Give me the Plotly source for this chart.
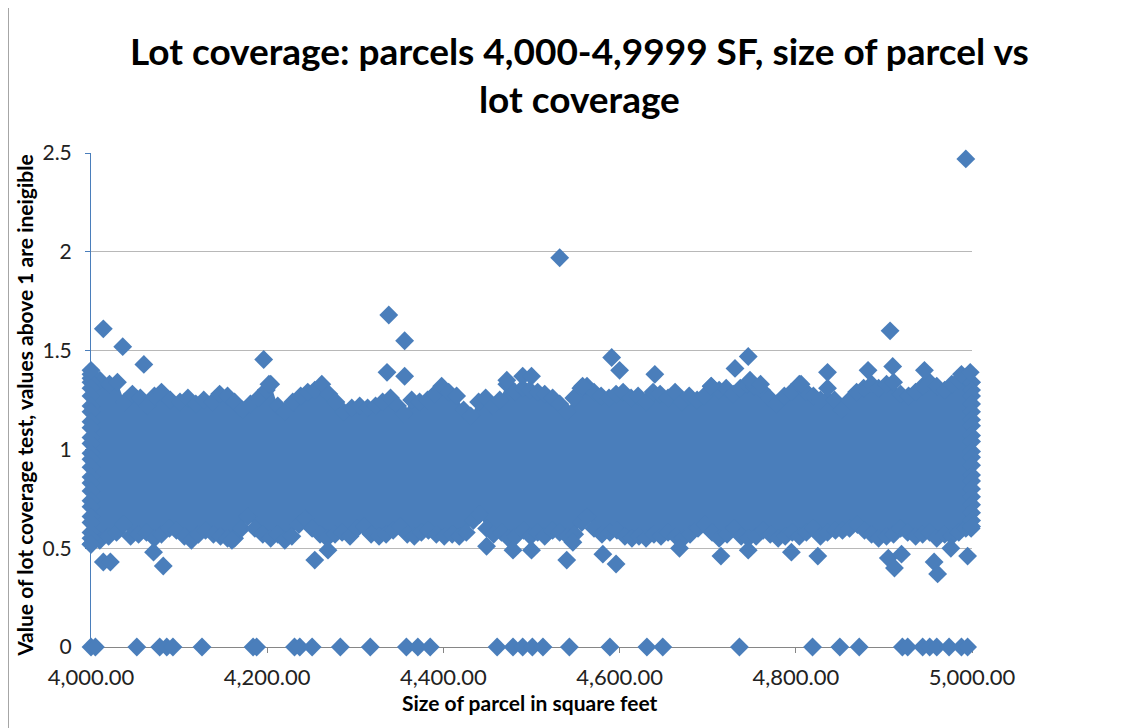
import plotly.graph_objects as go

# ---------------- data ----------------
# upper edge of the dense cloud of points (parcel size, lot coverage value)
band_top_x = [4000, 4010, 4021, 4030, 4038, 4047, 4056, 4064, 4072, 4080, 4090, 4101, 4110, 4119,
              4128, 4138, 4146, 4155, 4163, 4172, 4181, 4190, 4199, 4204, 4212, 4220, 4229, 4238,
              4246, 4254, 4262, 4270, 4278, 4287, 4296, 4305, 4314, 4323, 4331, 4340, 4348, 4355,
              4364, 4373, 4382, 4390, 4398, 4406, 4415, 4423, 4431, 4440, 4448, 4456, 4464, 4472,
              4481, 4490, 4498, 4507, 4515, 4524, 4532, 4540, 4548, 4556, 4563, 4571, 4579, 4588,
              4596, 4604, 4613, 4621, 4630, 4638, 4646, 4655, 4663, 4671, 4679, 4688, 4696, 4704,
              4713, 4721, 4729, 4737, 4745, 4753, 4761, 4770, 4778, 4787, 4795, 4804, 4812, 4820,
              4828, 4836, 4844, 4852, 4861, 4869, 4877, 4886, 4894, 4903, 4911, 4919, 4928, 4936,
              4944, 4952, 4960, 4969, 4977, 4985, 4993, 4999]
band_top_y = [1.36, 1.35, 1.33, 1.34, 1.24, 1.28, 1.26, 1.22, 1.27, 1.29, 1.25, 1.24, 1.26, 1.23,
              1.25, 1.24, 1.28, 1.27, 1.24, 1.20, 1.23, 1.26, 1.30, 1.33, 1.22, 1.19, 1.24, 1.27,
              1.29, 1.30, 1.33, 1.28, 1.24, 1.19, 1.21, 1.22, 1.21, 1.22, 1.24, 1.26, 1.22, 1.18,
              1.25, 1.24, 1.25, 1.28, 1.32, 1.29, 1.27, 1.20, 1.17, 1.24, 1.26, 1.22, 1.25, 1.33,
              1.29, 1.31, 1.30, 1.29, 1.28, 1.26, 1.23, 1.19, 1.26, 1.31, 1.32, 1.29, 1.27, 1.26,
              1.28, 1.29, 1.26, 1.27, 1.24, 1.29, 1.28, 1.26, 1.29, 1.24, 1.27, 1.25, 1.27, 1.32,
              1.30, 1.31, 1.28, 1.31, 1.33, 1.32, 1.30, 1.26, 1.23, 1.27, 1.29, 1.33, 1.29, 1.27,
              1.25, 1.31, 1.25, 1.20, 1.25, 1.29, 1.31, 1.33, 1.31, 1.33, 1.34, 1.28, 1.27, 1.29,
              1.32, 1.34, 1.32, 1.30, 1.33, 1.35, 1.36, 1.34]

# lower edge of the dense cloud
band_bottom_x = [4000, 4010, 4020, 4029, 4037, 4045, 4054, 4063, 4072, 4080, 4089, 4097, 4106, 4114,
                 4122, 4130, 4139, 4147, 4155, 4163, 4171, 4178, 4186, 4195, 4204, 4212, 4220, 4228,
                 4236, 4243, 4251, 4260, 4268, 4277, 4285, 4294, 4302, 4310, 4318, 4327, 4335, 4343,
                 4351, 4359, 4367, 4375, 4383, 4392, 4401, 4410, 4418, 4426, 4434, 4441, 4449, 4457,
                 4466, 4474, 4482, 4491, 4499, 4507, 4515, 4524, 4532, 4541, 4549, 4557, 4563, 4571,
                 4580, 4589, 4597, 4606, 4614, 4622, 4630, 4639, 4647, 4655, 4664, 4672, 4680, 4689,
                 4697, 4705, 4713, 4722, 4730, 4738, 4746, 4755, 4763, 4771, 4780, 4788, 4796, 4804,
                 4812, 4820, 4828, 4836, 4845, 4853, 4861, 4870, 4878, 4886, 4894, 4903, 4911, 4919,
                 4927, 4936, 4944, 4952, 4960, 4969, 4977, 4985, 4993, 4999]
band_bottom_y = [0.52, 0.54, 0.56, 0.58, 0.62, 0.56, 0.57, 0.58, 0.55, 0.57, 0.60, 0.59, 0.56, 0.54,
                 0.57, 0.59, 0.57, 0.56, 0.55, 0.55, 0.60, 0.66, 0.60, 0.57, 0.55, 0.57, 0.54, 0.56,
                 0.62, 0.65, 0.60, 0.57, 0.55, 0.57, 0.58, 0.56, 0.60, 0.61, 0.57, 0.56, 0.57, 0.59,
                 0.61, 0.57, 0.56, 0.58, 0.59, 0.57, 0.56, 0.57, 0.56, 0.58, 0.64, 0.67, 0.60, 0.57,
                 0.58, 0.55, 0.56, 0.59, 0.56, 0.58, 0.56, 0.59, 0.58, 0.56, 0.57, 0.63, 0.66, 0.60,
                 0.57, 0.58, 0.59, 0.56, 0.55, 0.56, 0.55, 0.57, 0.56, 0.58, 0.56, 0.55, 0.57, 0.60,
                 0.62, 0.58, 0.55, 0.57, 0.60, 0.56, 0.55, 0.56, 0.59, 0.57, 0.55, 0.56, 0.58, 0.56,
                 0.58, 0.60, 0.56, 0.58, 0.59, 0.59, 0.60, 0.62, 0.59, 0.57, 0.55, 0.56, 0.57, 0.60,
                 0.58, 0.56, 0.57, 0.58, 0.55, 0.57, 0.56, 0.58, 0.60, 0.60]

# columns of points stacked at the two ends of the size range
left_edge_x = 4000
left_edge_y = [1.38, 1.34, 1.31, 1.27, 1.22, 1.19, 1.14, 1.11, 1.06, 1.03, 0.98, 0.95, 0.91, 0.86,
               0.83, 0.79, 0.74, 0.71, 0.66, 0.63, 0.58, 0.55, 0.52]
right_edge_x = 4999.5
right_edge_y = [1.34, 1.30, 1.27, 1.23, 1.19, 1.15, 1.12, 1.07, 1.04, 0.99, 0.96, 0.92, 0.87, 0.84,
                0.80, 0.76, 0.72, 0.68, 0.64, 0.61]

# isolated points above the cloud
high_x = [4000, 4014, 4036, 4060, 4196, 4202, 4338, 4356, 4336, 4356, 4472, 4490, 4500, 4532,
          4558, 4591, 4600, 4640, 4704, 4731, 4746, 4748, 4760, 4806, 4836, 4882, 4907, 4910,
          4946, 4993, 4988, 4998]
high_y = [1.40, 1.61, 1.52, 1.43, 1.455, 1.33, 1.68, 1.55, 1.39, 1.37, 1.35, 1.37, 1.37, 1.97,
          1.32, 1.465, 1.40, 1.38, 1.32, 1.41, 1.47, 1.35, 1.33, 1.33, 1.39, 1.40, 1.60, 1.42,
          1.40, 2.47, 1.38, 1.39]

# isolated points below the cloud
low_x = [4014, 4022, 4071, 4082, 4160, 4254, 4269, 4449, 4479, 4500, 4540, 4547, 4581, 4596,
         4668, 4715, 4746, 4795, 4825, 4905, 4912, 4920, 4957, 4961, 4976, 4995]
low_y = [0.43, 0.43, 0.48, 0.41, 0.54, 0.44, 0.49, 0.51, 0.49, 0.49, 0.44, 0.53, 0.47, 0.42,
         0.50, 0.46, 0.49, 0.48, 0.46, 0.45, 0.40, 0.47, 0.43, 0.37, 0.50, 0.46]

# parcels whose test value is 0
zero_x = [4000, 4005, 4052, 4078, 4086, 4093, 4126, 4184, 4188, 4231, 4237, 4251, 4283, 4317,
          4358, 4371, 4385, 4461, 4479, 4490, 4501, 4513, 4543, 4589, 4631, 4649, 4736, 4819,
          4850, 4872, 4921, 4927, 4944, 4952, 4960, 4974, 4988, 4995]
zero_y = [0] * len(zero_x)

x_tick_vals = [4000, 4200, 4400, 4600, 4800, 5000]
y_tick_vals = [0, 0.5, 1, 1.5, 2, 2.5]

title_text = "Lot coverage: parcels 4,000-4,9999 SF, size of parcel vs<br>lot coverage"
x_title = "Size of parcel in square feet"
y_title = "Value of lot coverage test, values above 1 are ineigible"

# ---------------- figure ----------------
BLUE = "#4A7EBB"
FONT = "Lato"

fig = go.Figure()

# dense cloud body: closed region between the lower and upper edge of the cloud
poly_x = band_top_x + band_bottom_x[::-1]
poly_y = band_top_y + band_bottom_y[::-1]
fig.add_trace(go.Scatter(x=poly_x, y=poly_y, mode="lines", fill="toself",
                         fillcolor=BLUE, line=dict(width=0, color=BLUE),
                         hoverinfo="skip", showlegend=False))

all_x = (band_top_x + band_bottom_x + [left_edge_x] * len(left_edge_y)
         + [right_edge_x] * len(right_edge_y) + high_x + low_x + zero_x)
all_y = (band_top_y + band_bottom_y + left_edge_y + right_edge_y + high_y + low_y + zero_y)

fig.add_trace(go.Scatter(x=all_x, y=all_y, mode="markers",
                         marker=dict(symbol="diamond", size=14.5, color=BLUE,
                                     line=dict(width=0)),
                         cliponaxis=False, showlegend=False))

fig.update_layout(
    width=1142, height=728,
    margin=dict(l=83, r=178, t=145, b=89),
    paper_bgcolor="white", plot_bgcolor="white",
    showlegend=False,
    font=dict(family=FONT, color="#000000"),
    xaxis=dict(range=[4000, 5000], tickvals=x_tick_vals, tickformat=",.2f",
               showgrid=False, zeroline=False, showline=True, linecolor="#868686",
               linewidth=1, ticks="outside", ticklen=5, tickcolor="#868686",
               tickfont=dict(size=22, family=FONT, color="#222222"),
               layer="below traces", ticklabelstandoff=6),
    yaxis=dict(range=[0, 2.5], tickvals=y_tick_vals, showgrid=True,
               gridcolor="#B8B8B8", gridwidth=1, zeroline=False, showline=True,
               linecolor=BLUE, linewidth=1, ticks="outside", ticklen=5,
               tickcolor=BLUE, tickfont=dict(size=21, family=FONT, color="#222222"),
               layer="below traces", ticklabelstandoff=9),
)

fig.add_annotation(text="<b>" + title_text + "</b>", xref="paper", yref="paper",
                   x=0.555, y=1.158, xanchor="center", yanchor="middle",
                   showarrow=False, font=dict(size=37, family=FONT, color="#000000"))
fig.add_annotation(text="<b>" + x_title + "</b>", xref="paper", yref="paper",
                   x=0.498, y=-0.113, xanchor="center", yanchor="middle",
                   showarrow=False, font=dict(size=21, family=FONT, color="#000000"))
fig.add_annotation(text="<b>" + y_title + "</b>", xref="paper", yref="paper",
                   x=-0.075, y=0.49, xanchor="center", yanchor="middle", textangle=-90,
                   showarrow=False, font=dict(size=21, family=FONT, color="#000000"))

# chart-area border lines
fig.add_shape(type="line", xref="paper", yref="paper", x0=-0.0945, x1=-0.0945,
              y0=-0.17, y1=1.32, line=dict(color="#888888", width=2))
fig.add_shape(type="line", xref="paper", yref="paper", x0=1.1865, x1=1.1865,
              y0=-0.17, y1=1.32, line=dict(color="#888888", width=2))

fig.write_html("out.html")
